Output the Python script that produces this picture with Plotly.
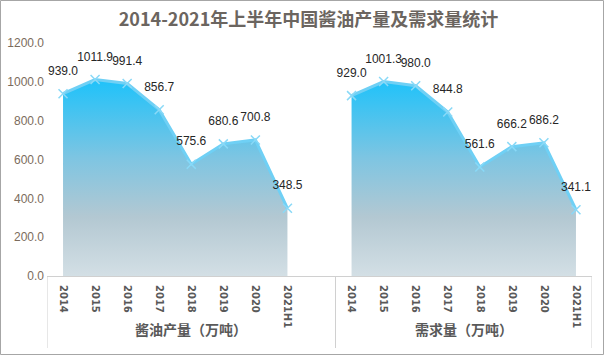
import plotly.graph_objects as go

years = ["2014", "2015", "2016", "2017", "2018", "2019", "2020", "2021H1"]
groups = ["酱油产量（万吨）", "需求量（万吨）"]
production = [939.0, 1011.9, 991.4, 856.7, 575.6, 680.6, 700.8, 348.5]
demand = [929.0, 1001.3, 980.0, 844.8, 561.6, 666.2, 686.2, 341.1]
title = "2014-2021年上半年中国酱油产量及需求量统计"
y_ticks = [0, 200, 400, 600, 800, 1000, 1200]

W, H = 605, 355
L, R, T, B = 47, 13, 43, 79
PW, PH = W - L - R, H - T - B

keys1 = [f"{groups[0]}|{y}" for y in years]
gap_key = f"{groups[0]}|gap"
keys2 = [f"{groups[1]}|{y}" for y in years]
all_keys = keys1 + [gap_key] + keys2
tick_text = years + [""] + years

grad = dict(type="vertical", start=0, stop=1012,
            colorscale=[[0, "#d3dfe5"], [0.3, "#b3c8d2"], [0.6, "#7ec5e2"], [1, "#1ec2fa"]])

fig = go.Figure()
for keys, vals in [(keys1, production), (keys2, demand)]:
    fig.add_trace(go.Scatter(
        x=keys, y=vals, mode="lines+markers",
        fill="tozeroy", fillgradient=grad,
        line=dict(color="#6fd0f5", width=3),
        marker=dict(symbol="x-thin", size=9, color="#8ad9f7",
                    line=dict(color="#8ad9f7", width=1.5)),
        showlegend=False, hoverinfo="skip",
    ))
for keys, vals in [(keys1, production), (keys2, demand)]:
    fig.add_trace(go.Scatter(
        x=keys, y=vals, mode="markers+text",
        marker=dict(size=24, opacity=0),
        text=[f"{v:.1f}" for v in vals], textposition="top center",
        textfont=dict(family="Liberation Sans", size=12, color="#262626"),
        cliponaxis=False, showlegend=False, hoverinfo="skip",
    ))

shapes = []
for xi in [-0.5, len(keys1) + 0.5, len(all_keys) - 0.5]:
    shapes.append(dict(type="line", xref="x", yref="paper", x0=xi, x1=xi,
                       y0=0, y1=-72 / PH, line=dict(color="#d0d0d0", width=1)))
# figure border
shapes.append(dict(type="rect", xref="paper", yref="paper",
                   x0=(0.5 - L) / PW, x1=(W - 1.5 - L) / PW,
                   y0=-(B - 0.5) / PH, y1=(T - 0.5) / PH + 1,
                   line=dict(color="#a6a6a6", width=1)))

annotations = [
    dict(text=groups[0], x=(len(keys1)) / 2, xref="x", y=-65 / PH, yref="paper",
         showarrow=False, font=dict(family="Noto Sans CJK SC", size=14, color="#595959", weight="bold")),
    dict(text=groups[1], x=len(keys1) + 1 + (len(keys2) - 1) / 2, xref="x", y=-65 / PH, yref="paper",
         showarrow=False, font=dict(family="Noto Sans CJK SC", size=14, color="#595959", weight="bold")),
]

fig.update_layout(
    width=W, height=H, margin=dict(l=L, r=R, t=T, b=B, autoexpand=False),
    paper_bgcolor="white", plot_bgcolor="white",
    title=dict(text=title, x=0.51, xanchor="center", y=1 - 20 / H, yanchor="middle",
               yref="container",
               font=dict(family="Noto Sans CJK SC", size=18, color="#6b6560", weight="bold")),
    xaxis=dict(type="category", categoryorder="array", categoryarray=all_keys,
               range=[-0.5, len(all_keys) - 0.5], automargin=False,
               tickmode="array", tickvals=all_keys, ticktext=tick_text,
               tickangle=90, ticklabelstandoff=6,
               tickfont=dict(family="DejaVu Sans", size=10, color="#595959", weight="bold"),
               showline=True, linecolor="#d0d0d0", linewidth=1,
               showgrid=False, zeroline=False, ticks=""),
    yaxis=dict(range=[0, 1200], tickvals=y_ticks, tickformat=".1f", automargin=False,
               tickfont=dict(family="Liberation Sans", size=12, color="#7b6b5c"),
               ticklabelstandoff=2,
               showgrid=False, zeroline=False, showline=False, ticks=""),
    shapes=shapes, annotations=annotations,
)

fig.write_html("out.html", config={"displayModeBar": False},
               post_script="document.body.style.margin='0px';document.body.style.overflow='hidden';")
